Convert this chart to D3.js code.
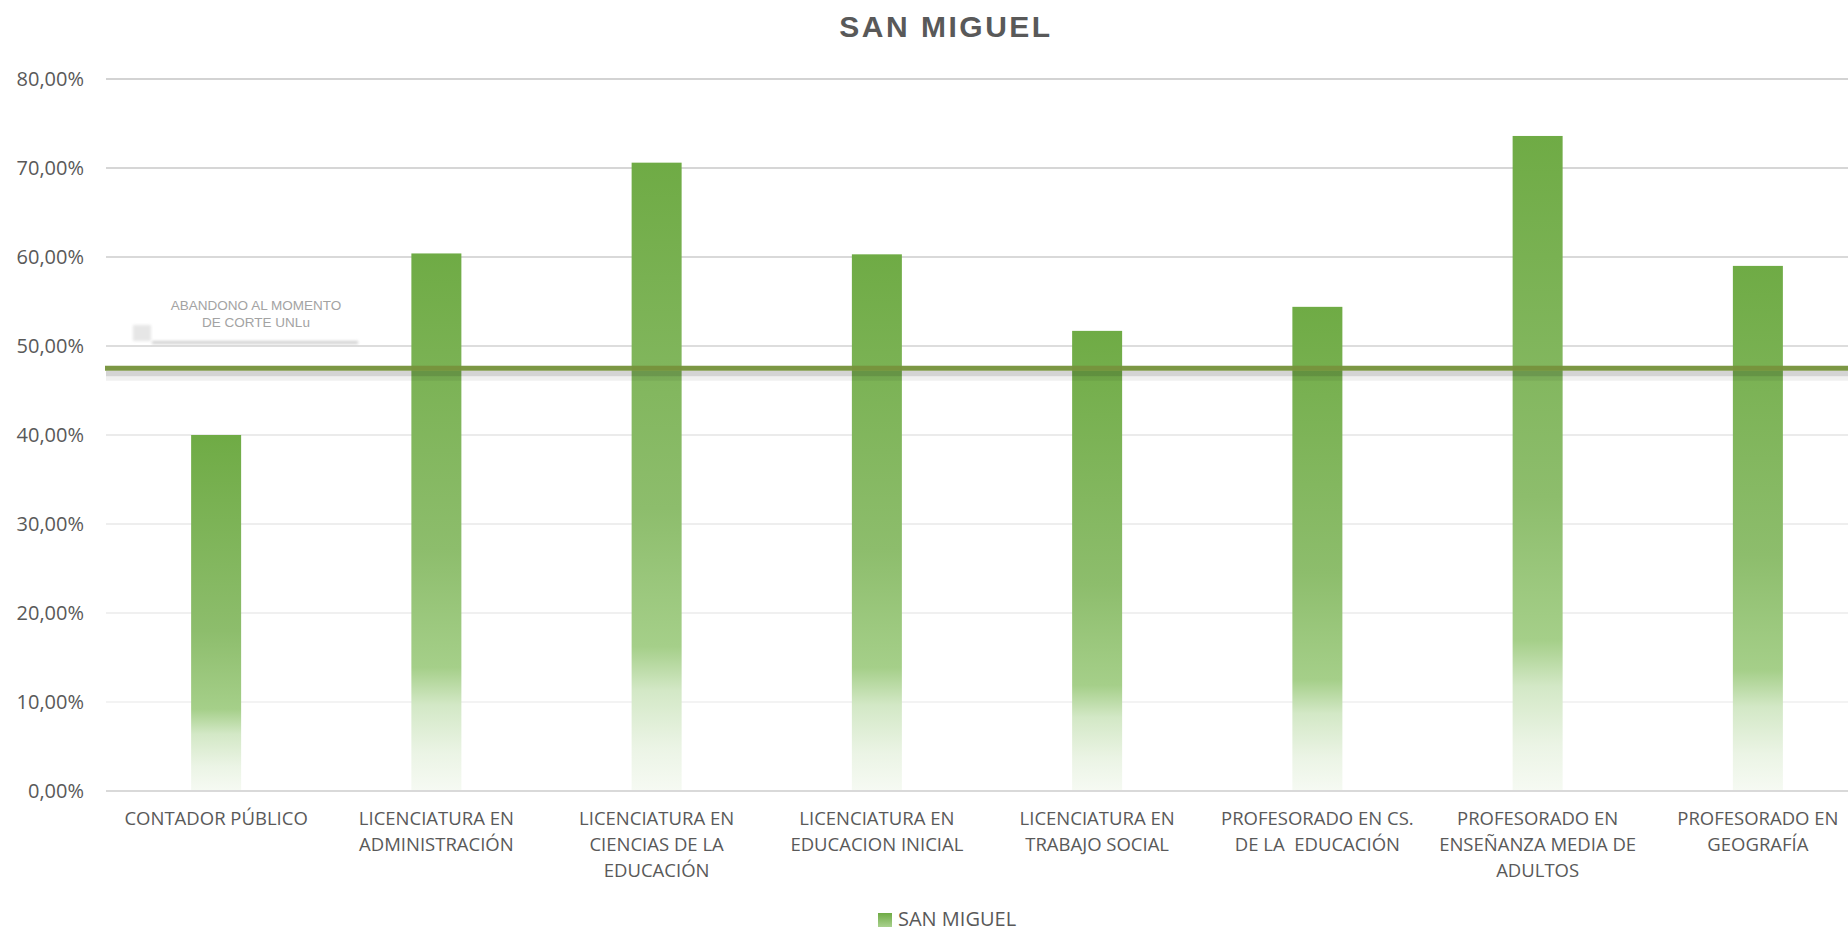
<!DOCTYPE html>
<html>
<head>
<meta charset="utf-8">
<script src="https://cdn.jsdelivr.net/npm/d3@7"></script>
<style>
  html, body { margin: 0; padding: 0; background: #fff; }
  svg { display: block; }
  text { white-space: pre; }
</style>
</head>
<body>
<script>
// ---------- DATA ----------
const title = "SAN MIGUEL";
const seriesName = "SAN MIGUEL";
const categories = [
  "CONTADOR PÚBLICO",
  "LICENCIATURA EN ADMINISTRACIÓN",
  "LICENCIATURA EN CIENCIAS DE LA EDUCACIÓN",
  "LICENCIATURA EN EDUCACION INICIAL",
  "LICENCIATURA EN TRABAJO SOCIAL",
  "PROFESORADO EN CS. DE LA  EDUCACIÓN",
  "PROFESORADO EN ENSEÑANZA MEDIA DE ADULTOS",
  "PROFESORADO EN GEOGRAFÍA"
];
const categoryLines = [
  ["CONTADOR PÚBLICO"],
  ["LICENCIATURA EN", "ADMINISTRACIÓN"],
  ["LICENCIATURA EN", "CIENCIAS DE LA", "EDUCACIÓN"],
  ["LICENCIATURA EN", "EDUCACION INICIAL"],
  ["LICENCIATURA EN", "TRABAJO SOCIAL"],
  ["PROFESORADO EN CS.", "DE LA  EDUCACIÓN"],
  ["PROFESORADO EN", "ENSEÑANZA MEDIA DE", "ADULTOS"],
  ["PROFESORADO EN", "GEOGRAFÍA"]
];
const values = [0.400, 0.604, 0.706, 0.603, 0.517, 0.544, 0.736, 0.590];
const yTicks = [0, 0.1, 0.2, 0.3, 0.4, 0.5, 0.6, 0.7, 0.8];
const referenceValue = 0.475;
const referenceLabel = ["ABANDONO AL MOMENTO", "DE CORTE UNLu"];

// ---------- LAYOUT ----------
const W = 1848, H = 932;
const svg = d3.select("body").append("svg").attr("width", W).attr("height", H);
const defs = svg.append("defs");

const x = d3.scaleBand().domain(categories).range([106, 1868])
  .paddingInner(0.773).paddingOuter(0.3865);
const y = d3.scaleLinear().domain([0, 0.8]).range([791, 79]);

const gridColor = d3.scaleLinear()
  .domain([0.1, 0.4, 0.5, 0.8])
  .range(["#efefef", "#e4e4e4", "#d2d2d2", "#c4c4c4"]);

// gradient for bars
const grad = defs.append("linearGradient").attr("id", "barGrad")
  .attr("x1", 0).attr("y1", 0).attr("x2", 0).attr("y2", 1);
[[0, "#6fab45"], [0.55, "#8dbd6c"], [0.77, "#a5cf89"], [0.84, "#d3e8c6"], [0.93, "#ebf4e5"], [1, "#f6faf3"]]
  .forEach(([o, c]) => grad.append("stop").attr("offset", o).attr("stop-color", c));

const lgGrad = defs.append("linearGradient").attr("id", "legGrad")
  .attr("x1", 0).attr("y1", 0).attr("x2", 0).attr("y2", 1);
[[0, "#6fab45"], [1, "#a9d18e"]]
  .forEach(([o, c]) => lgGrad.append("stop").attr("offset", o).attr("stop-color", c));

const blur = defs.append("filter").attr("id", "blur").attr("x", "-20%").attr("y", "-200%")
  .attr("width", "140%").attr("height", "500%");
blur.append("feGaussianBlur").attr("stdDeviation", 1.5);

// title
svg.append("text")
  .attr("x", 946).attr("y", 26).attr("dy", "0.35em")
  .attr("text-anchor", "middle")
  .style("font-family", "'Liberation Sans', Arial, sans-serif")
  .style("font-weight", "bold").style("font-size", "30px")
  .style("letter-spacing", "2.5px")
  .attr("fill", "#595959").text(title);

// gridlines
const gridG = svg.append("g");
gridG.selectAll("line").data(yTicks.filter(d => d > 0)).join("line")
  .attr("x1", 106).attr("x2", W)
  .attr("y1", d => y(d)).attr("y2", d => y(d))
  .attr("stroke", d => gridColor(d)).attr("stroke-width", 1.6);

// y axis labels
const yAxis = d3.axisLeft(y).tickValues(yTicks).tickSize(0).tickPadding(0)
  .tickFormat(d => d3.format(".2f")(d * 100).replace(".", ",") + "%");
const yG = svg.append("g").attr("transform", "translate(84,0)").call(yAxis);
yG.select(".domain").remove();
yG.selectAll("text")
  .style("font-family", "'Open Sans', sans-serif").style("font-size", "20px")
  .attr("fill", "#595959");

// text box shadow artifacts (reference label)
svg.append("rect").attr("x", 152).attr("y", 341).attr("width", 206).attr("height", 3)
  .attr("fill", "#cfcfcf").attr("filter", "url(#blur)");
svg.append("rect").attr("x", 133).attr("y", 325).attr("width", 18).attr("height", 16)
  .attr("fill", "#e6e6e6").attr("filter", "url(#blur)");

// bars
svg.append("g").selectAll("rect").data(values).join("rect")
  .attr("x", (d, i) => x(categories[i]))
  .attr("width", x.bandwidth())
  .attr("y", d => y(d))
  .attr("height", d => y(0) - y(d))
  .attr("fill", "url(#barGrad)");

// x axis line
svg.append("line").attr("x1", 106).attr("x2", W)
  .attr("y1", y(0)).attr("y2", y(0))
  .attr("stroke", "#d9d9d9").attr("stroke-width", 1.8);

// x labels
const xl = svg.append("g").selectAll("text").data(categoryLines).join("text")
  .attr("text-anchor", "middle")
  .style("font-family", "'Open Sans', sans-serif").style("font-size", "18.5px")
  .attr("fill", "#595959");
xl.each(function (lines, i) {
  const cx = x(categories[i]) + x.bandwidth() / 2;
  d3.select(this).selectAll("tspan").data(lines).join("tspan")
    .attr("x", cx).attr("y", (d, j) => 819 + j * 26).attr("dy", "0.35em")
    .text(d => d);
});

// reference line with shadow
const ry = y(referenceValue);
svg.append("rect").attr("x", 106).attr("y", ry + 2.5).attr("width", W - 106).attr("height", 5.5)
  .attr("fill", "rgba(0,0,0,0.17)");
svg.append("rect").attr("x", 106).attr("y", ry + 8).attr("width", W - 106).attr("height", 4.5)
  .attr("fill", "rgba(0,0,0,0.06)");
svg.append("line").attr("x1", 105).attr("x2", W)
  .attr("y1", ry).attr("y2", ry)
  .attr("stroke", "#77933c").attr("stroke-width", 4.8).attr("stroke-opacity", 0.96);

// reference label
svg.append("text").attr("text-anchor", "middle")
  .style("font-family", "'Liberation Sans', Arial, sans-serif").style("font-size", "13.5px")
  .attr("fill", "#a3a3a3")
  .selectAll("tspan").data(referenceLabel).join("tspan")
  .attr("x", 256).attr("y", (d, j) => 305 + j * 17).attr("dy", "0.35em")
  .text(d => d);

// legend
svg.append("rect").attr("x", 878).attr("y", 913).attr("width", 14).attr("height", 14)
  .attr("fill", "url(#legGrad)");
svg.append("text").attr("x", 898).attr("y", 926)
  .style("font-family", "'Open Sans', sans-serif").style("font-size", "20px")
  .attr("fill", "#595959").text(seriesName);
</script>
</body>
</html>
